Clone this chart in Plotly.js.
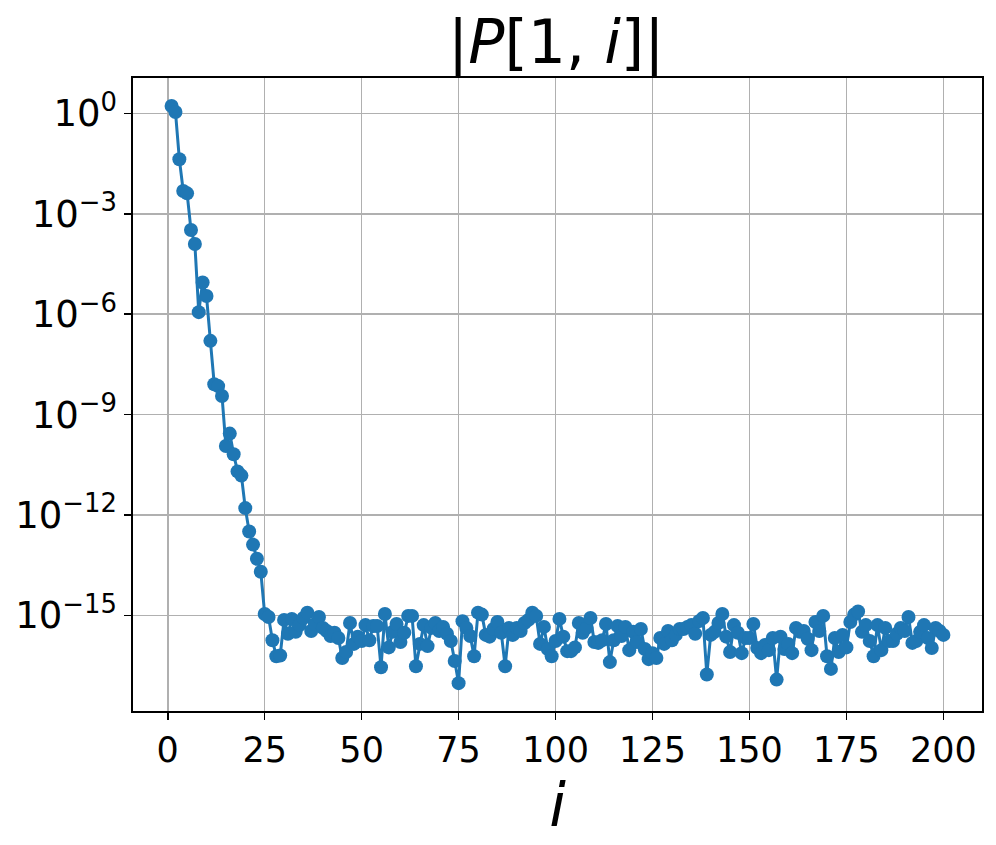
<!DOCTYPE html>
<html>
<head>
<meta charset="utf-8">
<script src="https://cdn.plot.ly/plotly-3.0.1.min.js"></script>
<style>html,body{margin:0;padding:0;background:#fff;}#chart{width:996px;height:845px;}</style>
</head>
<body>
<div id="chart"></div>
<script>
// Index i = 1..200
const indices = Array.from({length: 200}, (_, k) => k + 1);

// |P[1,i]| values
const absP = [
  1.68, 1.11, 0.043, 4.8e-3, 4.1e-3, 3.3e-4, 1.26e-4, 1.15e-6, 8.9e-6, 3.5e-6,
  1.6e-7, 8.1e-9, 7.1e-9, 3.6e-9, 1.15e-10, 2.7e-10, 6.5e-11, 2.0e-11, 1.5e-11, 1.6e-12,
  3.2e-13, 1.3e-13, 4.9e-14, 2.0e-14, 1.1e-15, 8.9e-16, 1.8e-16, 6.0e-17, 6.3e-17, 7.3e-16,
  2.8e-16, 7.8e-16, 3.2e-16, 5.1e-16, 8.3e-16, 1.2e-15, 3.4e-16, 5.5e-16, 8.9e-16, 4.2e-16,
  3.4e-16, 2.4e-16, 3.0e-16, 2.1e-16, 5.3e-17, 8.0e-17, 5.9e-16, 1.4e-16, 2.3e-16, 1.7e-16,
  5.1e-16, 1.8e-16, 4.8e-16, 4.8e-16, 2.8e-17, 1.1e-15, 1.1e-16, 3.2e-16, 5.5e-16, 1.6e-16,
  3.0e-16, 9.6e-16, 9.6e-16, 3.0e-17, 1.4e-16, 5.1e-16, 1.2e-16, 4.2e-16, 5.9e-16, 3.4e-16,
  4.5e-16, 2.8e-16, 1.7e-16, 4.3e-17, 9.4e-18, 6.7e-16, 4.2e-16, 2.4e-16, 6.0e-17, 1.2e-15,
  1.05e-15, 2.6e-16, 2.3e-16, 3.9e-16, 6.3e-16, 3.0e-16, 3.0e-17, 4.2e-16, 2.6e-16, 4.2e-16,
  3.4e-16, 5.9e-16, 7.3e-16, 1.2e-15, 9.6e-16, 1.4e-16, 4.5e-16, 9.8e-17, 6.0e-17, 1.7e-16,
  7.8e-16, 2.3e-16, 8.5e-17, 8.5e-17, 1.1e-16, 5.9e-16, 3.0e-16, 4.2e-16, 8.3e-16, 1.6e-16,
  1.5e-16, 1.8e-16, 5.5e-16, 4.0e-17, 1.8e-16, 4.8e-16, 2.4e-16, 4.5e-16, 9.1e-17, 3.2e-16,
  1.6e-16, 3.9e-16, 9.8e-17, 4.9e-17, 7.4e-17, 5.3e-17, 2.1e-16, 1.4e-16, 3.4e-16, 1.8e-16,
  2.6e-16, 3.9e-16, 3.9e-16, 4.5e-16, 5.1e-16, 2.8e-16, 6.7e-16, 8.3e-16, 1.7e-17, 2.6e-16,
  3.2e-16, 5.9e-16, 1.1e-15, 2.3e-16, 8.0e-17, 5.1e-16, 3.0e-16, 7.4e-17, 2.1e-16, 2.1e-16,
  5.5e-16, 1.05e-16, 7.4e-17, 1.3e-16, 9.1e-17, 2.1e-16, 1.2e-17, 2.3e-16, 9.8e-17, 1.4e-16,
  7.4e-17, 4.2e-16, 3.2e-16, 3.4e-16, 2.0e-16, 9.1e-17, 6.3e-16, 3.4e-16, 9.6e-16, 6.0e-17,
  2.5e-17, 2.1e-16, 8.0e-17, 2.6e-16, 1.1e-16, 6.3e-16, 1.05e-15, 1.3e-15, 3.2e-16, 5.1e-16,
  1.7e-16, 6.0e-17, 5.1e-16, 9.1e-17, 4.2e-16, 1.7e-16, 1.7e-16, 2.8e-16, 4.2e-16, 3.4e-16,
  8.9e-16, 1.5e-16, 1.7e-16, 3.2e-16, 5.1e-16, 2.1e-16, 1.05e-16, 4.2e-16, 3.4e-16, 2.6e-16
];

const xTickVals = [0, 25, 50, 75, 100, 125, 150, 175, 200];
const yTickVals = [1e0, 1e-3, 1e-6, 1e-9, 1e-12, 1e-15];
const yTickText = ['10<sup>0</sup>', '10<sup>−3</sup>', '10<sup>−6</sup>', '10<sup>−9</sup>', '10<sup>−12</sup>', '10<sup>−15</sup>'];

const trace = {
  x: indices,
  y: absP,
  type: 'scatter',
  mode: 'lines+markers',
  line: {color: '#1f77b4', width: 3},
  marker: {color: '#1f77b4', size: 14},
  hoverinfo: 'skip'
};

const layout = {
  width: 996,
  height: 845,
  paper_bgcolor: '#ffffff',
  plot_bgcolor: '#ffffff',
  margin: {l: 133, r: 14, t: 78, b: 134, pad: 0},
  showlegend: false,
  font: {family: 'DejaVu Sans, sans-serif', color: '#000000'},
  title: {
    text: '|<i>P</i>[1, <i>i</i>]|',
    font: {size: 60, family: 'DejaVu Sans', color: '#000000'},
    x: 0.5585, xanchor: 'center',
    y: 0.95, yanchor: 'middle'
  },
  xaxis: {
    range: [-8.95, 209.95],
    tickvals: xTickVals,
    ticktext: xTickVals.map(String),
    tickfont: {size: 35, family: 'DejaVu Sans', color: '#000000'},
    ticks: 'outside', ticklen: 7, tickwidth: 1.6, tickcolor: '#000000',
    showgrid: true, gridcolor: '#b0b0b0', gridwidth: 1.6,
    zeroline: false,
    showline: true, linecolor: '#000000', linewidth: 1.6, mirror: true,
    title: {text: '<i>i</i>', font: {size: 60, family: 'DejaVu Sans', color: '#000000'}, standoff: 6}
  },
  yaxis: {
    type: 'log',
    range: [-17.86, 1.06],
    tickvals: yTickVals,
    ticktext: yTickText,
    tickfont: {size: 37, family: 'DejaVu Sans', color: '#000000'},
    ticks: 'outside', ticklen: 7, tickwidth: 1.6, tickcolor: '#000000',
    showgrid: true, gridcolor: '#b0b0b0', gridwidth: 1.6,
    zeroline: false,
    showline: true, linecolor: '#000000', linewidth: 1.6, mirror: true
  }
};

Plotly.newPlot('chart', [trace], layout, {displayModeBar: false, staticPlot: true});
</script>
</body>
</html>
